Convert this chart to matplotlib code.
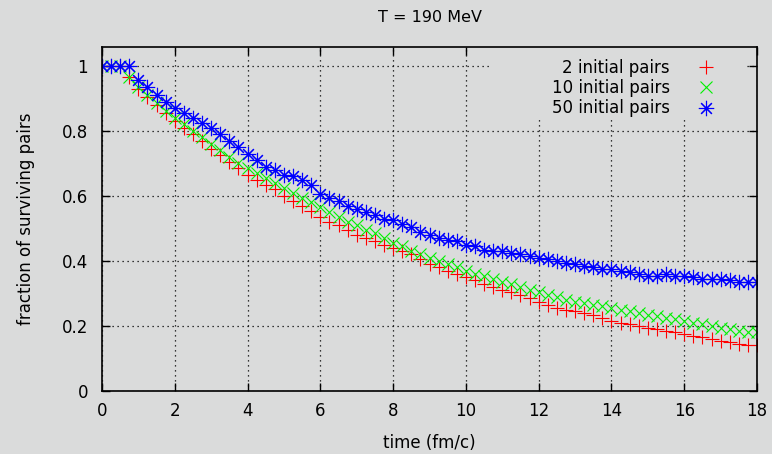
import numpy as np
import matplotlib.pyplot as plt
from matplotlib.patches import Rectangle

# time grid (fm/c), one sample every 0.25
time = np.arange(0, 18.01, 0.25)

# surviving fraction, 2 initial pairs
pairs_2 = [1.0, 1.0, 1.0, 0.965,
           0.93, 0.905, 0.88, 0.855,
           0.83, 0.81, 0.79, 0.77,
           0.745, 0.725, 0.705, 0.685,
           0.665, 0.65, 0.635, 0.62,
           0.60, 0.585, 0.57, 0.555,
           0.535, 0.52, 0.51, 0.495,
           0.48, 0.47, 0.46, 0.45,
           0.44, 0.43, 0.42, 0.405,
           0.39, 0.38, 0.37, 0.36,
           0.35, 0.34, 0.33, 0.32,
           0.31, 0.305, 0.295, 0.285,
           0.275, 0.265, 0.255, 0.25,
           0.245, 0.24, 0.235, 0.225,
           0.215, 0.21, 0.205, 0.20,
           0.195, 0.19, 0.185, 0.18,
           0.175, 0.17, 0.165, 0.16,
           0.155, 0.15, 0.145, 0.14,
           0.14]

# surviving fraction, 10 initial pairs
pairs_10 = [1.0, 1.0, 1.0, 0.965,
            0.935, 0.91, 0.885, 0.86,
            0.84, 0.82, 0.80, 0.78,
            0.76, 0.74, 0.72, 0.70,
            0.685, 0.67, 0.655, 0.64,
            0.625, 0.61, 0.595, 0.58,
            0.565, 0.55, 0.535, 0.52,
            0.51, 0.495, 0.485, 0.47,
            0.455, 0.445, 0.43, 0.42,
            0.41, 0.40, 0.39, 0.38,
            0.37, 0.36, 0.355, 0.345,
            0.335, 0.33, 0.32, 0.31,
            0.305, 0.295, 0.29, 0.28,
            0.275, 0.27, 0.265, 0.26,
            0.255, 0.25, 0.245, 0.24,
            0.235, 0.23, 0.225, 0.22,
            0.215, 0.21, 0.205, 0.20,
            0.195, 0.19, 0.185, 0.18,
            0.18]

# surviving fraction, 50 initial pairs
pairs_50 = [1.0, 1.0, 1.0, 1.0,
            0.955, 0.935, 0.91, 0.89,
            0.87, 0.855, 0.84, 0.825,
            0.81, 0.79, 0.77, 0.75,
            0.73, 0.71, 0.69, 0.68,
            0.665, 0.66, 0.65, 0.635,
            0.605, 0.595, 0.585, 0.57,
            0.56, 0.55, 0.54, 0.53,
            0.525, 0.515, 0.505, 0.49,
            0.48, 0.47, 0.465, 0.46,
            0.45, 0.445, 0.435, 0.43,
            0.43, 0.425, 0.42, 0.415,
            0.41, 0.405, 0.40, 0.395,
            0.39, 0.385, 0.38, 0.375,
            0.375, 0.37, 0.365, 0.36,
            0.355, 0.355, 0.36, 0.355,
            0.355, 0.35, 0.345, 0.345,
            0.345, 0.34, 0.335, 0.335,
            0.335]

labels = ['2 initial pairs', '10 initial pairs', '50 initial pairs']

bg = '#dadbdb'
plt.rcParams['font.family'] = 'DejaVu Sans'
plt.rcParams['font.size'] = 12

fig = plt.figure(figsize=(7.72, 4.54), dpi=100, facecolor=bg)
ax = fig.add_axes([102/772, 1 - 391/454, 655/772, 344/454], facecolor=bg)

ax.plot(time, pairs_2, ls='none', marker='+', ms=10, mew=0.8, color='#ff0000', label=labels[0])
ax.plot(time, pairs_10, ls='none', marker='x', ms=8, mew=0.8, color='#00f000', label=labels[1])
ax.plot(time, pairs_50, ls='none', marker=(8, 2, 0), ms=11, mew=0.8, color='#0000ff', label=labels[2])

ax.set_xlim(0, 18)
ax.set_ylim(0, 1.058)
ax.set_xticks(np.arange(0, 19, 2))
ax.set_yticks(np.arange(0, 1.01, 0.2))
ax.set_yticklabels(['0', '0.2', '0.4', '0.6', '0.8', '1'])
ax.tick_params(axis='x', pad=8)
ax.tick_params(direction='in', length=6, width=1, top=True, right=True, colors='black')
ax.tick_params(axis='y', pad=10)
ax.grid(True, color='black', ls=(0, (1, 3)), lw=0.9)
for s in ax.spines.values():
    s.set_linewidth(1.2)

# opaque key box: hides the grid behind the legend
ax.add_patch(Rectangle((0.592, 0.795), 0.39, 0.205, transform=ax.transAxes,
                       facecolor=bg, edgecolor='none', zorder=1.8))

ax.set_xlabel('time (fm/c)', labelpad=10)
ax.set_ylabel('fraction of surviving pairs', labelpad=19)
ax.set_title('T = 190 MeV', fontsize=11.5, pad=18)

leg = ax.legend(loc='upper right', bbox_to_anchor=(0.951, 0.985), markerfirst=False,
                frameon=False, borderaxespad=0, borderpad=0.4,
                handletextpad=1.4, labelspacing=0.14, handlelength=1.5)

fig.savefig('out.png', dpi=100, facecolor=bg)
